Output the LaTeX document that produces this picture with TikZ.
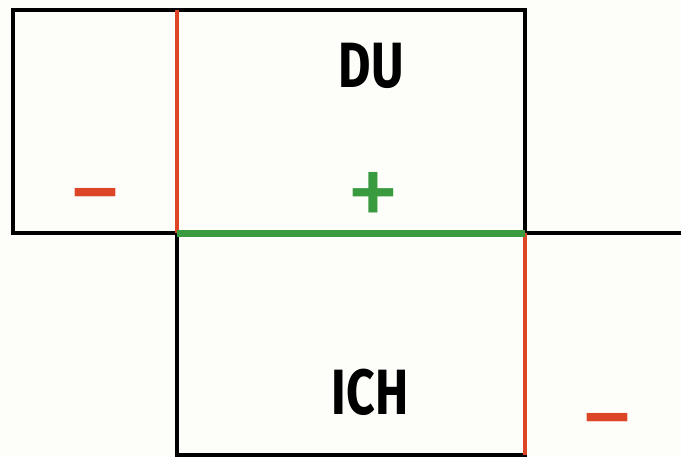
\documentclass[tikz,border=0pt]{standalone}
\usepackage{fontspec}
\setmainfont{Fira Sans}
\definecolor{bg}{HTML}{FDFDFA}
\definecolor{redl}{HTML}{DD4527}
\definecolor{greenl}{HTML}{3A9A40}
\begin{document}
\begin{tikzpicture}[x=1pt,y=-1pt,
  blk/.style={line width=3.2pt,black,line cap=rect},
  redline/.style={line width=3.4pt,redl},
  greenline/.style={line width=7pt,greenl},
  word/.style={font=\fontsize{64}{64}\selectfont\bfseries,inner sep=0pt,xscale=0.78},
  sign/.style={font=\fontsize{108}{108}\selectfont,inner sep=0pt,anchor=base,text depth=0pt}]
\fill[bg] (0,0) rectangle (681,456);
\useasboundingbox (0,0) rectangle (681,456);
% corners
\coordinate (tl) at (13,10);
\coordinate (tm) at (177,10);
\coordinate (tr) at (525,10);
\coordinate (ml) at (13,233);
\coordinate (mm) at (177,233);
\coordinate (mr) at (525,233);
\coordinate (me) at (681,233);
\coordinate (bm) at (177,455);
\coordinate (br) at (525,455);
% black outline
\draw[blk] (tm) -- (tl) -- (ml) -- (mm);
\draw[blk] (tm) -- (tr) -- (mr) -- (me);
\draw[blk] (mm) -- (bm) -- (br);
% coloured edges
\draw[redline] (tm) -- (mm);
\draw[redline] (mr) -- (br);
\draw[greenline] (mm) -- (mr);
% texts
\node[word] (du) at (371,66) {DU};
\node[word] (ich) at (370,392) {ICH};
\node[sign,text=redl] (m1) at (95,228) {−};
\node[sign,text=greenl] (p1) at (373,228) {+};
\node[sign,text=redl] (m2) at (607,453) {−};
\end{tikzpicture}
\end{document}
